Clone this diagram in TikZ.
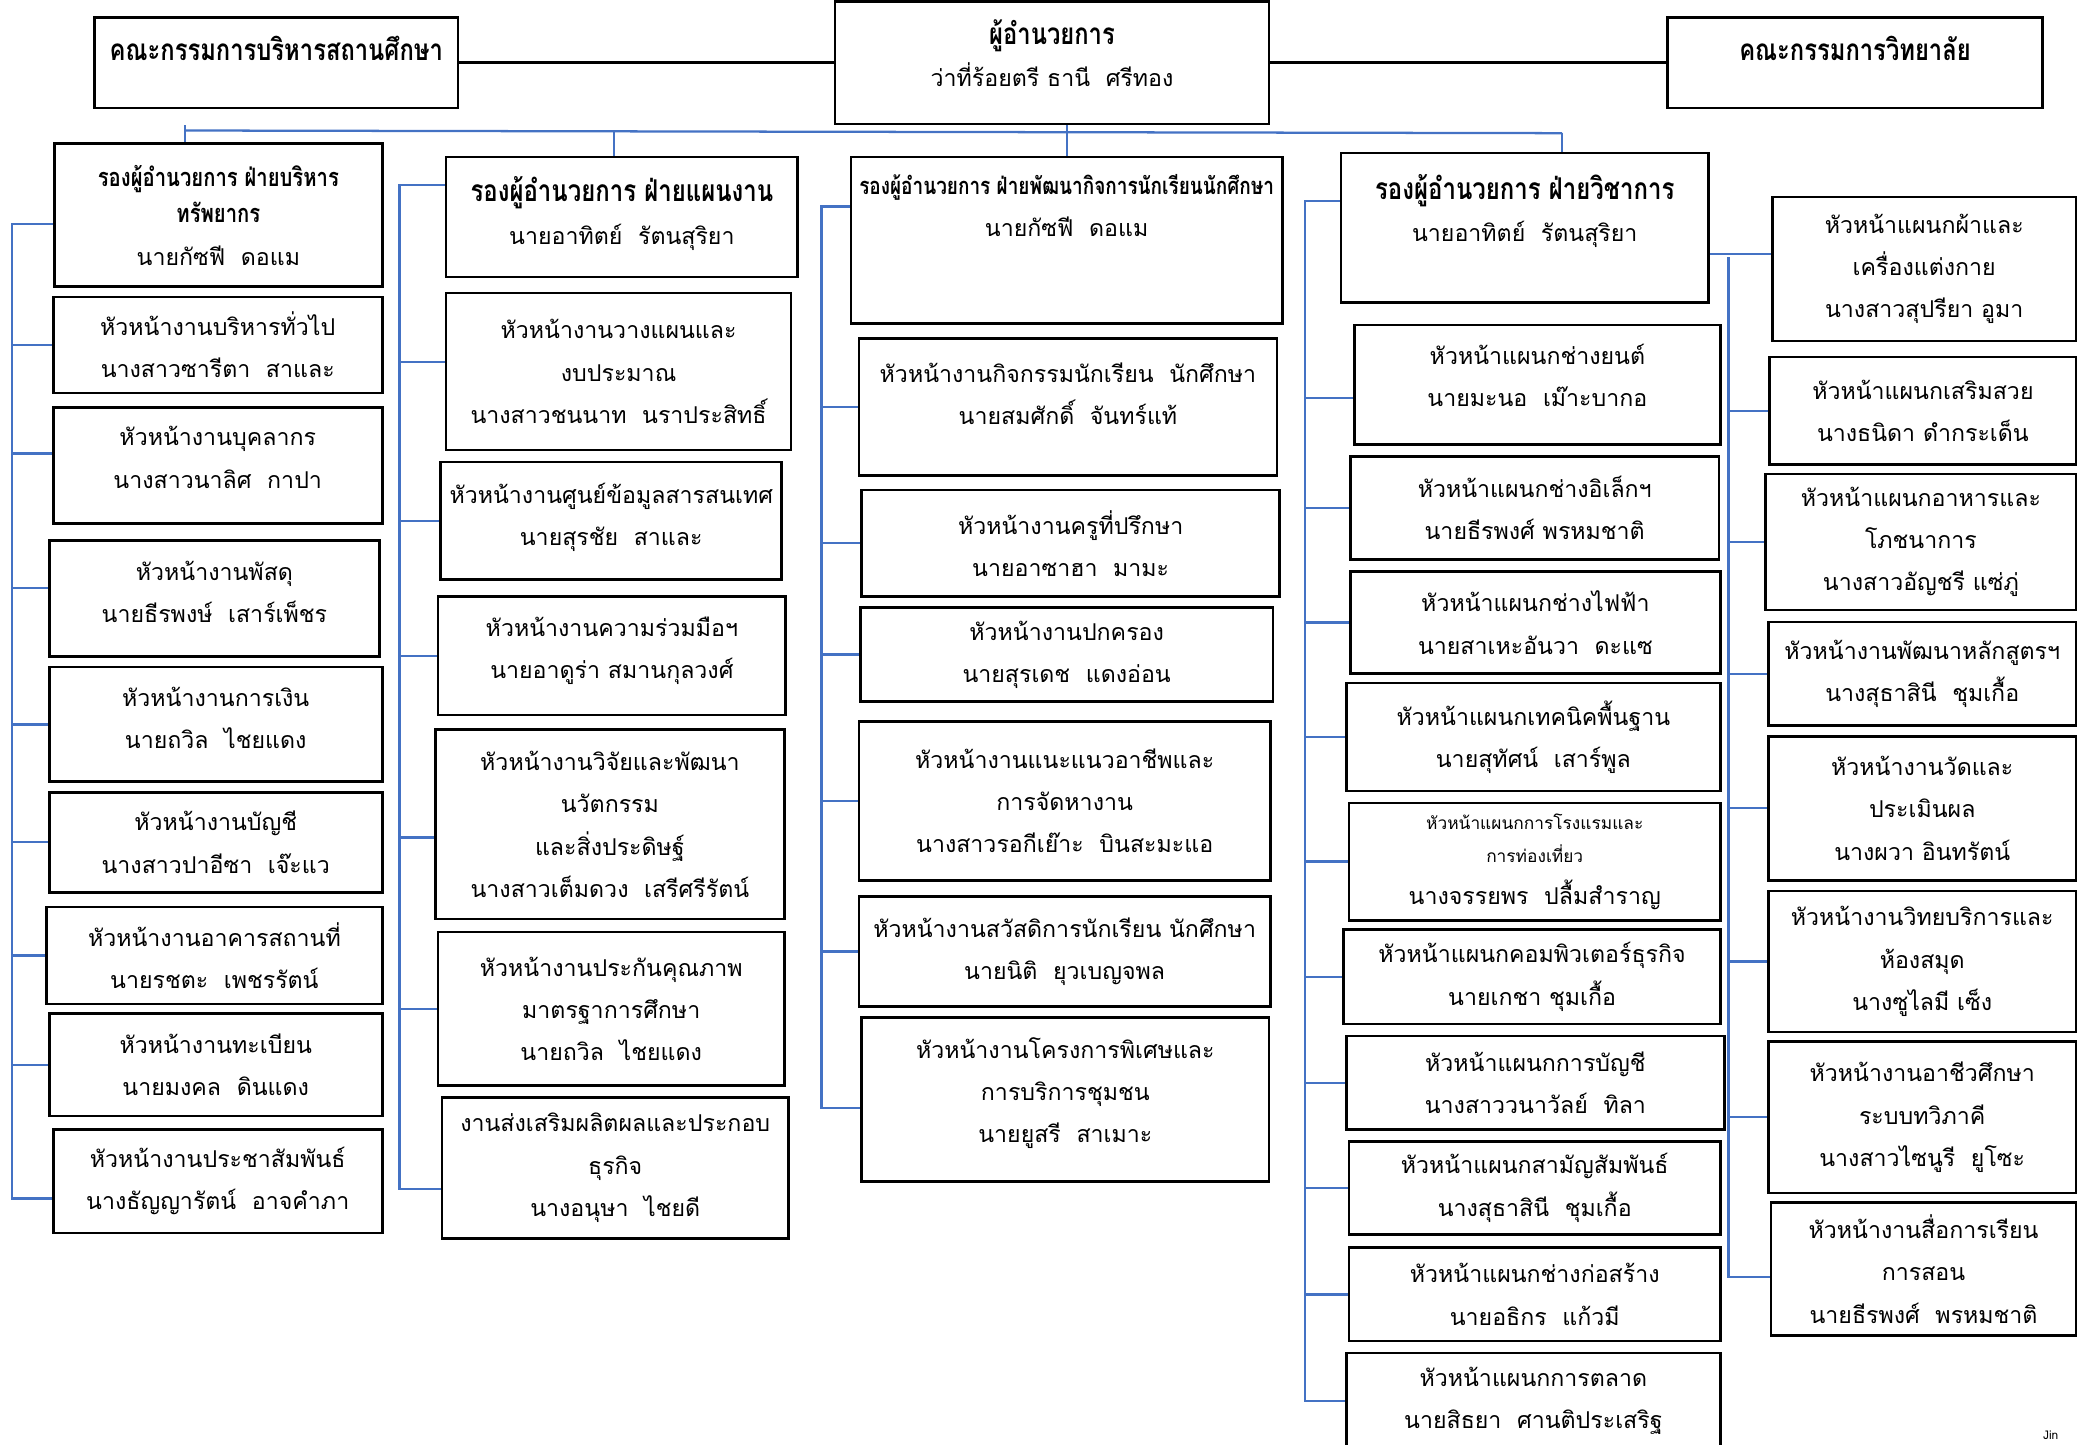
\documentclass[tikz,border=0pt]{standalone}
\usepackage{fontspec}
\setmainfont[Script=Thai]{Loma}
\newfontfamily\headfont[Script=Thai,FakeStretch=0.8]{Loma}
\definecolor{linkblue}{RGB}{68,114,196}
\newcommand{\tophead}[1]{{\headfont\bfseries\fontsize{22.3}{31}\selectfont #1}}
\newcommand{\bighead}[1]{{\headfont\bfseries\fontsize{22.5}{31}\selectfont #1}}
\newcommand{\subhead}[1]{{\headfont\bfseries\fontsize{19}{27}\selectfont #1}}
\newcommand{\wardhead}[1]{{\headfont\bfseries\fontsize{17.8}{27}\selectfont #1}}
\newcommand{\smalltxt}[1]{{\fontsize{13}{25}\selectfont #1}}

\begin{document}
\begin{tikzpicture}
[x=1pt, y=-1pt,
  unit/.style={draw=black, line width=2pt, anchor=north west, inner sep=0pt, align=center,
    font=\fontsize{17.4}{31.7}\selectfont},
  wh/.style 2 args={minimum width=#1, minimum height=#2},
  lift/.style={text depth=#1},
  link/.style={draw=linkblue, line width=1.7pt},
  tie/.style={draw=black, line width=1.8pt}
]
  \useasboundingbox (0,0) rectangle (1568,1085);

  % top row
  \node[unit, wh={273}{68}, lift=22pt] (boardL) at (70,12) {\tophead{คณะกรรมการบริหารสถานศึกษา}};
  \node[unit, wh={326}{92}, lift=14pt] (dir) at (626,0) {\tophead{ผู้อำนวยการ}\\ว่าที่ร้อยตรี ธานี~~ศรีทอง};
  \node[unit, wh={282}{68}, lift=22pt] (boardR) at (1251,12) {\tophead{คณะกรรมการวิทยาลัย}};
  \draw[tie] (boardL.east) -- (dir.west);
  \draw[tie] (dir.east) -- (boardR.west);

  % column 1
  \node[unit, wh={246}{107}] (dep1) at (40,107) {\subhead{รองผู้อำนวยการ ฝ่ายบริหาร}\\[-4pt]\subhead{ทรัพยากร}\\นายกัซฟี~~ดอแม};
  \node[unit, wh={247}{72}] (gen1) at (39,222) {หัวหน้างานบริหารทั่วไป\\นางสาวซารีตา~~สาและ};
  \node[unit, wh={247}{87}, lift=12pt] (staff) at (39,305) {หัวหน้างานบุคลากร\\นางสาวนาลิศ~~กาปา};
  \node[unit, wh={248}{87}, lift=10pt] (supply) at (36,405) {หัวหน้างานพัสดุ\\นายธีรพงษ์~~เสาร์เพ็ชร};
  \node[unit, wh={250}{86}, lift=10pt] (money) at (36,500) {หัวหน้างานการเงิน\\นายถวิล~~ไชยแดง};
  \node[unit, wh={250}{75}] (books) at (36,594) {หัวหน้างานบัญชี\\นางสาวปาอีซา~~เจ๊ะแว};
  \node[unit, wh={252}{73}] (build) at (34,680) {หัวหน้างานอาคารสถานที่\\นายรชตะ~~เพชรรัตน์};
  \node[unit, wh={250}{77}] (regis) at (36,760) {หัวหน้างานทะเบียน\\นายมงคล~~ดินแดง};
  \node[unit, wh={247}{78}] (pubrel) at (39,847) {หัวหน้างานประชาสัมพันธ์\\นางธัญญารัตน์~~อาจคำภา};

  % column 2
  \node[unit, wh={264}{90}, lift=10pt] (dep2) at (334,117) {\bighead{รองผู้อำนวยการ ฝ่ายแผนงาน}\\นายอาทิตย์~~รัตนสุริยา};
  \node[unit, wh={259}{118}] (plan) at (334,219) {หัวหน้างานวางแผนและ\\งบประมาณ\\นางสาวชนนาท~~นราประสิทธิ์};
  \node[unit, wh={256}{88}, lift=10pt] (info) at (330,346) {หัวหน้างานศูนย์ข้อมูลสารสนเทศ\\นายสุรชัย~~สาและ};
  \node[unit, wh={261}{89}, lift=12pt] (coop) at (328,447) {หัวหน้างานความร่วมมือฯ\\นายอาดูร่า สมานกุลวงศ์};
  \node[unit, wh={262}{142}] (rnd) at (326,547) {หัวหน้างานวิจัยและพัฒนา\\นวัตกรรม\\และสิ่งประดิษฐ์\\นางสาวเต็มดวง~~เสรีศรีรัตน์};
  \node[unit, wh={260}{115}] (qa) at (328,699) {หัวหน้างานประกันคุณภาพ\\มาตรฐาการศึกษา\\นายถวิล~~ไชยแดง};
  \node[unit, wh={260}{106}] (biz) at (331,823) {งานส่งเสริมผลิตผลและประกอบ\\ธุรกิจ\\นางอนุษา~~ไชยดี};

  % column 3
  \node[unit, wh={324}{125}, lift=52pt] (dep3) at (638,117) {\wardhead{รองผู้อำนวยการ ฝ่ายพัฒนากิจการนักเรียนนักศึกษา}\\นายกัซฟี~~ดอแม};
  \node[unit, wh={314}{103}, lift=20pt] (activ) at (644,253) {หัวหน้างานกิจกรรมนักเรียน~~นักศึกษา\\นายสมศักดิ์~~จันทร์แท้};
  \node[unit, wh={314}{80}] (advis) at (646,367) {หัวหน้างานครูที่ปรึกษา\\นายอาซาฮา~~มามะ};
  \node[unit, wh={310}{71}] (govern) at (645,455) {หัวหน้างานปกครอง\\นายสุรเดช~~แดงอ่อน};
  \node[unit, wh={309}{119}] (career) at (644,541) {หัวหน้างานแนะแนวอาชีพและ\\การจัดหางาน\\นางสาวรอกีเย๊าะ~~บินสะมะแอ};
  \node[unit, wh={309}{83}] (welfare) at (644,672) {หัวหน้างานสวัสดิการนักเรียน นักศึกษา\\นายนิติ~~ยุวเบญจพล};
  \node[unit, wh={306}{123}, lift=14pt] (project) at (646,763) {หัวหน้างานโครงการพิเศษและ\\การบริการชุมชน\\นายยูสรี~~สาเมาะ};

  % column 4
  \node[unit, wh={276}{112}, lift=30pt] (dep4) at (1006,114) {\bighead{รองผู้อำนวยการ ฝ่ายวิชาการ}\\นายอาทิตย์~~รัตนสุริยา};
  \node[unit, wh={275}{90}, lift=14pt] (motor) at (1016,243) {หัวหน้าแผนกช่างยนต์\\นายมะนอ~~เม๊าะบากอ};
  \node[unit, wh={277}{77}] (elec) at (1013,342) {หัวหน้าแผนกช่างอิเล็กฯ\\นายธีรพงศ์ พรหมชาติ};
  \node[unit, wh={278}{77}] (power) at (1013,428) {หัวหน้าแผนกช่างไฟฟ้า\\นายสาเหะอันวา~~ดะแซ};
  \node[unit, wh={281}{81}] (basic) at (1010,512) {หัวหน้าแผนกเทคนิคพื้นฐาน\\นายสุทัศน์~~เสาร์พูล};
  \node[unit, wh={279}{88}] (hotel) at (1012,602) {\smalltxt{หัวหน้าแผนกการโรงแรมและ}\\[-7pt]\smalltxt{การท่องเที่ยว}\\นางจรรยพร~~ปลื้มสำราญ};
  \node[unit, wh={283}{71}] (comp) at (1008,697) {หัวหน้าแผนกคอมพิวเตอร์ธุรกิจ\\นายเกชา ชุมเกื้อ};
  \node[unit, wh={284}{70}] (acct) at (1010,777) {หัวหน้าแผนกการบัญชี\\นางสาววนาวัลย์~~ทิลา};
  \node[unit, wh={279}{70}] (common) at (1012,856) {หัวหน้าแผนกสามัญสัมพันธ์\\นางสุธาสินี~~ชุมเกื้อ};
  \node[unit, wh={279}{70}] (constr) at (1012,936) {หัวหน้าแผนกช่างก่อสร้าง\\นายอธิกร~~แก้วมี};
  \node[unit, wh={281}{72}] (market) at (1010,1015) {หัวหน้าแผนกการตลาด\\นายสิธยา~~ศานติประเสริฐ};

  % column 5
  \node[unit, wh={228}{108}] (cloth) at (1330,147) {หัวหน้าแผนกผ้าและ\\เครื่องแต่งกาย\\นางสาวสุปรียา อูมา};
  \node[unit, wh={230}{81}] (beauty) at (1328,267) {หัวหน้าแผนกเสริมสวย\\นางธนิดา ดำกระเด็น};
  \node[unit, wh={233}{102}] (food) at (1325,355) {หัวหน้าแผนกอาหารและ\\โภชนาการ\\นางสาวอัญชรี แซ่ภู่};
  \node[unit, wh={231}{78}] (course) at (1327,466) {หัวหน้างานพัฒนาหลักสูตรฯ\\นางสุธาสินี~~ชุมเกื้อ};
  \node[unit, wh={231}{108}] (assess) at (1327,552) {หัวหน้างานวัดและ\\ประเมินผล\\นางผวา อินทรัตน์};
  \node[unit, wh={231}{106}] (library) at (1327,668) {หัวหน้างานวิทยบริการและ\\ห้องสมุด\\นางซูไลมี เซ็ง};
  \node[unit, wh={231}{114}] (dual) at (1327,781) {หัวหน้างานอาชีวศึกษา\\ระบบทวิภาคี\\นางสาวไซนูรี~~ยูโซะ};
  \node[unit, wh={229}{100}] (media) at (1329,902) {หัวหน้างานสื่อการเรียน\\การสอน\\นายธีรพงศ์~~พรหมชาติ};

  \node[font=\fontsize{9}{10}\selectfont] (sig) at (1540,1078) {Jin};

  % blue bus
  \coordinate (busL) at (139,98);
  \coordinate (busR) at (1173,100);
  \draw[link] (busL) -- (busR);
  \draw[link] ([yshift=4pt]busL) -- (busL |- dep1.north);
  \draw[link] ([xshift=-6pt]dep2.north) -- ([xshift=-6pt]dep2.north |- busL);
  \draw[link] (dep3.north) -- (dep3.north |- dir.south);
  \draw[link] (busR) -- (busR |- dep4.north);

  % column 1 links
  \coordinate (c1t) at (9,168);
  \coordinate (c1b) at (9,900);
  \draw[link] (c1t -| dep1.west) -- (c1t) -- (c1b) -- (c1b -| pubrel.west);
  \draw[link] (gen1.west) -- (gen1.west -| c1t);
  \draw[link] ([yshift=9pt]staff.west) -- ([yshift=9pt]staff.west -| c1t);
  \draw[link] ([yshift=8pt]supply.west) -- ([yshift=8pt]supply.west -| c1t);
  \draw[link] (money.west) -- (money.west -| c1t);
  \draw[link] (books.west) -- (books.west -| c1t);
  \draw[link] (build.west) -- (build.west -| c1t);
  \draw[link] (regis.west) -- (regis.west -| c1t);

  % column 2 links
  \coordinate (c2t) at (300,139);
  \coordinate (c2b) at (300,893);
  \draw[link] (c2t -| dep2.west) -- (c2t) -- (c2b) -- (c2b -| biz.west);
  \draw[link] ([yshift=7pt]plan.west) -- ([yshift=7pt]plan.west -| c2t);
  \draw[link] (info.west) -- (info.west -| c2t);
  \draw[link] (coop.west) -- (coop.west -| c2t);
  \draw[link] ([yshift=-10pt]rnd.west) -- ([yshift=-10pt]rnd.west -| c2t);
  \draw[link] (qa.west) -- (qa.west -| c2t);

  % column 3 links
  \coordinate (c3t) at (617,155);
  \coordinate (c3b) at (617,832);
  \draw[link] (c3t -| dep3.west) -- (c3t) -- (c3b) -- (c3b -| project.west);
  \draw[link] (activ.west) -- (activ.west -| c3t);
  \draw[link] (advis.west) -- (advis.west -| c3t);
  \draw[link] (govern.west) -- (govern.west -| c3t);
  \draw[link] (career.west) -- (career.west -| c3t);
  \draw[link] (welfare.west) -- (welfare.west -| c3t);

  % column 4 links
  \coordinate (c4t) at (980,151);
  \coordinate (c4b) at (980,1052);
  \draw[link] (c4t -| dep4.west) -- (c4t) -- (c4b) -- (c4b -| market.west);
  \draw[link] ([yshift=-10pt]motor.west) -- ([yshift=-10pt]motor.west -| c4t);
  \draw[link] (elec.west) -- (elec.west -| c4t);
  \draw[link] (power.west) -- (power.west -| c4t);
  \draw[link] (basic.west) -- (basic.west -| c4t);
  \draw[link] (hotel.west) -- (hotel.west -| c4t);
  \draw[link] (comp.west) -- (comp.west -| c4t);
  \draw[link] (acct.west) -- (acct.west -| c4t);
  \draw[link] (common.west) -- (common.west -| c4t);
  \draw[link] (constr.west) -- (constr.west -| c4t);

  % column 5 links
  \coordinate (c5t) at (1298,193);
  \coordinate (c5b) at (1298,959);
  \draw[link] ([yshift=-20pt]dep4.east) -- ([yshift=-20pt]dep4.east -| cloth.west);
  \draw[link] (c5t) -- (c5b) -- (c5b -| media.west);
  \draw[link] (beauty.west) -- (beauty.west -| c5t);
  \draw[link] (food.west) -- (food.west -| c5t);
  \draw[link] (course.west) -- (course.west -| c5t);
  \draw[link] (assess.west) -- (assess.west -| c5t);
  \draw[link] (library.west) -- (library.west -| c5t);
  \draw[link] (dual.west) -- (dual.west -| c5t);
\end{tikzpicture}
\end{document}
